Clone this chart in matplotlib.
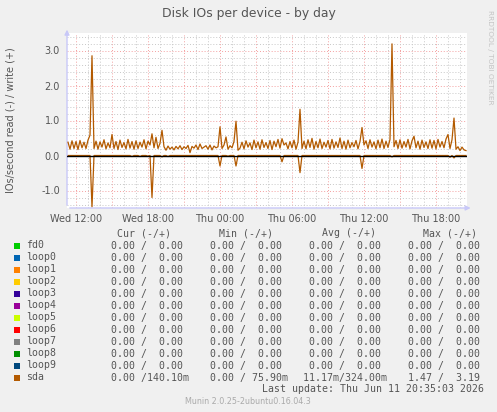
import numpy as np
import matplotlib
matplotlib.use('Agg')
import matplotlib.pyplot as plt
from matplotlib.patches import Rectangle

# sda write IOs/s, 10 minute samples starting Wed 11:20
write_ios = [
    0.38, 0.18, 0.42, 0.20,                      # 11:20
    0.40, 0.17, 0.43, 0.22, 0.38, 0.20,          # Wed 12
    0.44, 0.58, 2.85, 0.20, 0.41, 0.18,          # 13
    0.39, 0.24, 0.45, 0.19, 0.36, 0.22,          # 14
    0.60, 0.20, 0.40, 0.17, 0.44, 0.23,          # 15
    0.37, 0.19, 0.46, 0.21, 0.40, 0.18,          # 16
    0.42, 0.20, 0.38, 0.24, 0.45, 0.19,          # 17
    0.41, 0.30, 0.62, 0.22, 0.52, 0.20,          # 18
    0.35, 0.72, 0.25, 0.15, 0.27, 0.18,          # 19
    0.24, 0.16, 0.26, 0.19, 0.28, 0.17,          # 20
    0.25, 0.20, 0.29, 0.08, 0.26, 0.21,          # 21
    0.30, 0.17, 0.33, 0.20, 0.24, 0.28,          # 22
    0.18, 0.30, 0.16, 0.27, 0.22, 0.25,          # 23
    0.82, 0.20, 0.30, 0.53, 0.18, 0.28,          # Thu 00
    0.22, 0.40, 0.98, 0.15, 0.21, 0.38,          # 01
    0.19, 0.42, 0.24, 0.36, 0.17, 0.44,          # 02
    0.22, 0.39, 0.18, 0.45, 0.23, 0.37,          # 03
    0.20, 0.43, 0.17, 0.41, 0.25, 0.46,          # 04
    0.21, 0.48, 0.30, 0.36, 0.19, 0.40,          # 05
    0.22, 0.44, 0.18, 0.38, 1.32, 0.20,          # 06
    0.41, 0.19, 0.45, 0.23, 0.49, 0.18,          # 07
    0.40, 0.22, 0.47, 0.20, 0.38, 0.24,          # 08
    0.43, 0.19, 0.46, 0.21, 0.39, 0.23,          # 09
    0.50, 0.20, 0.41, 0.18, 0.44, 0.22,          # 10
    0.37, 0.25, 0.43, 0.19, 0.40, 0.80,          # 11
    0.30, 0.42, 0.20, 0.45, 0.24, 0.39,          # 12
    0.19, 0.44, 0.22, 0.47, 0.20, 0.41,          # 13
    0.23, 0.46, 3.19, 0.25, 0.43, 0.20,          # 14
    0.45, 0.21, 0.40, 0.24, 0.46, 0.19,          # 15
    0.42, 0.55, 0.22, 0.41, 0.18, 0.44,          # 16
    0.23, 0.39, 0.20, 0.45, 0.21, 0.43,          # 17
    0.19, 0.46, 0.24, 0.40, 0.22, 0.47,          # 18
    0.60, 0.20, 0.45, 1.07, 0.18, 0.25,          # 19
    0.14, 0.24, 0.16, 0.14,                      # 20
]

# sda read IOs/s (nonzero samples only), hours since Wed 00:00
read_hours = [13 + 20/60, 16 + 40/60, 17 + 20/60, 18.0, 18 + 20/60, 19 + 10/60,
              19 + 40/60, 24.0, 24 + 40/60, 25 + 20/60, 29 + 10/60, 30 + 40/60,
              35 + 50/60, 38 + 20/60, 43 + 10/60, 43 + 30/60]
read_ios = [1.47, 0.03, 0.03, 0.02, 1.20, 0.04, 0.03, 0.30, 0.02, 0.30,
            0.18, 0.49, 0.37, 0.04, 0.05, 0.07]

devices = ['fd0', 'loop0', 'loop1', 'loop2', 'loop3', 'loop4', 'loop5',
           'loop6', 'loop7', 'loop8', 'loop9', 'sda']
colors = ['#00CC00', '#0066B3', '#FF8000', '#FFCC00', '#330099', '#990099',
          '#CCFF00', '#FF0000', '#808080', '#008F00', '#00487D', '#B35A00']
# (read, write) pairs for cur / min / avg / max
cur_vals = [(0, 0)] * 11 + [(0, 0.1401)]
min_vals = [(0, 0)] * 11 + [(0, 0.0759)]
avg_vals = [(0, 0)] * 11 + [(0.01117, 0.324)]
max_vals = [(0, 0)] * 11 + [(1.47, 3.19)]

xtick_hours = [12, 18, 24, 30, 36, 42]
xtick_labels = ['Wed 12:00', 'Wed 18:00', 'Thu 00:00', 'Thu 06:00',
                'Thu 12:00', 'Thu 18:00']
ytick_vals = [-1, 0, 1, 2, 3]
ytick_labels = ['-1.0', '0.0', '1.0', '2.0', '3.0']

W, H = 497, 412
bg = '#f0f0f0'
txt = '#555555'
mono = 'DejaVu Sans Mono'

fig = plt.figure(figsize=(W / 100, H / 100), dpi=100, facecolor=bg)
ax = fig.add_axes([67 / W, 1 - 208 / H, 400 / W, 175 / H])
ax.set_facecolor('white')
ax.set_xlim(11.25, 44 + 35 / 60)
ax.set_ylim(-1.5, 3.5)
for s in ax.spines.values():
    s.set_visible(False)

# grid
for h in range(12, 45):
    major = h % 3 == 0
    ax.axvline(h, color='#f4a0a0' if major else '#c8c8c8', lw=0.7,
               ls=(0, (1, 2)), zorder=1)
for k in range(-7, 18):
    y = k * 0.2
    major = k % 5 == 0
    ax.axhline(y, color='#f4a0a0' if major else '#c8c8c8', lw=0.7,
               ls=(0, (1, 2)), zorder=1)

t = 11 + 20 / 60 + np.arange(len(write_ios)) / 6
read_full = np.zeros(len(t))
for h, v in zip(read_hours, read_ios):
    read_full[int(round((h - t[0]) * 6))] = v

ax.plot(t, -read_full, color=colors[-1], lw=0.9, zorder=3)
ax.axhline(0, color='black', lw=1, zorder=4)
ax.plot(t, write_ios, color=colors[-1], lw=0.9, zorder=5)

ax.set_xticks(xtick_hours)
ax.set_xticklabels(xtick_labels)
ax.set_yticks(ytick_vals)
ax.set_yticklabels(ytick_labels)
ax.tick_params(length=0, labelsize=7, colors=txt)
ax.tick_params(axis='x', pad=4)
ax.tick_params(axis='y', pad=5)

# axes with arrows
axis_col = '#c8c8f8'
ax.annotate('', xy=(0, 1.035), xytext=(0, 0), xycoords='axes fraction',
            arrowprops=dict(arrowstyle='-|>', color=axis_col, lw=1,
                            mutation_scale=7))
ax.annotate('', xy=(1.016, 0), xytext=(0, 0), xycoords='axes fraction',
            arrowprops=dict(arrowstyle='-|>', color=axis_col, lw=1,
                            mutation_scale=7))

def fx(x):
    return x / W

def fy(y):
    return 1 - y / H

fig.text(0.5, fy(13), 'Disk IOs per device - by day', ha='center',
         va='center', fontsize=8.9, color=txt)
fig.text(fx(11), fy(120), 'IOs/second read (-) / write (+)', rotation=90,
         ha='center', va='center', fontsize=7, color=txt)
fig.text(fx(490), fy(57), 'RRDTOOL / TOBI OETIKER', rotation=270,
         ha='center', va='center', fontsize=5.3, color='#c4c4c4')

def fmt(v):
    if v != 0 and abs(v) < 1:
        return '%6.2fm' % (v * 1000)
    return '%6.2f ' % v

def cell(pair):
    return fmt(pair[0]) + '/' + fmt(pair[1])

fs = 7.1
for x, head in zip([116.7, 219.3, 321.7, 423.3],
                   ['Cur (-/+)', 'Min (-/+)', 'Avg (-/+)', 'Max (-/+)']):
    fig.text(fx(x), fy(233.5), head, family=mono, fontsize=fs, color=txt,
             ha='left', va='center')

col_x = [99.1, 198.1, 297.1, 396.1]
for i, name in enumerate(devices):
    y = 245.5 + i * 12
    fig.patches.append(Rectangle((fx(14), fy(y + 3)), 6 / W, 6 / H,
                                 transform=fig.transFigure,
                                 facecolor=colors[i], edgecolor='none'))
    fig.text(fx(26), fy(y), name, family=mono, fontsize=fs, color=txt,
             ha='left', va='center')
    for x, vals in zip(col_x, [cur_vals, min_vals, avg_vals, max_vals]):
        fig.text(fx(x), fy(y), cell(vals[i]), family=mono, fontsize=fs,
                 color=txt, ha='left', va='center')

fig.text(fx(483.5), fy(389.5), 'Last update: Thu Jun 11 20:35:03 2026',
         family=mono, fontsize=fs, color=txt, ha='right', va='center')
fig.text(fx(248), fy(401), 'Munin 2.0.25-2ubuntu0.16.04.3', fontsize=5.8,
         color='#aaaaaa', ha='center', va='center')

fig.savefig('out.png', dpi=100, facecolor=bg)
